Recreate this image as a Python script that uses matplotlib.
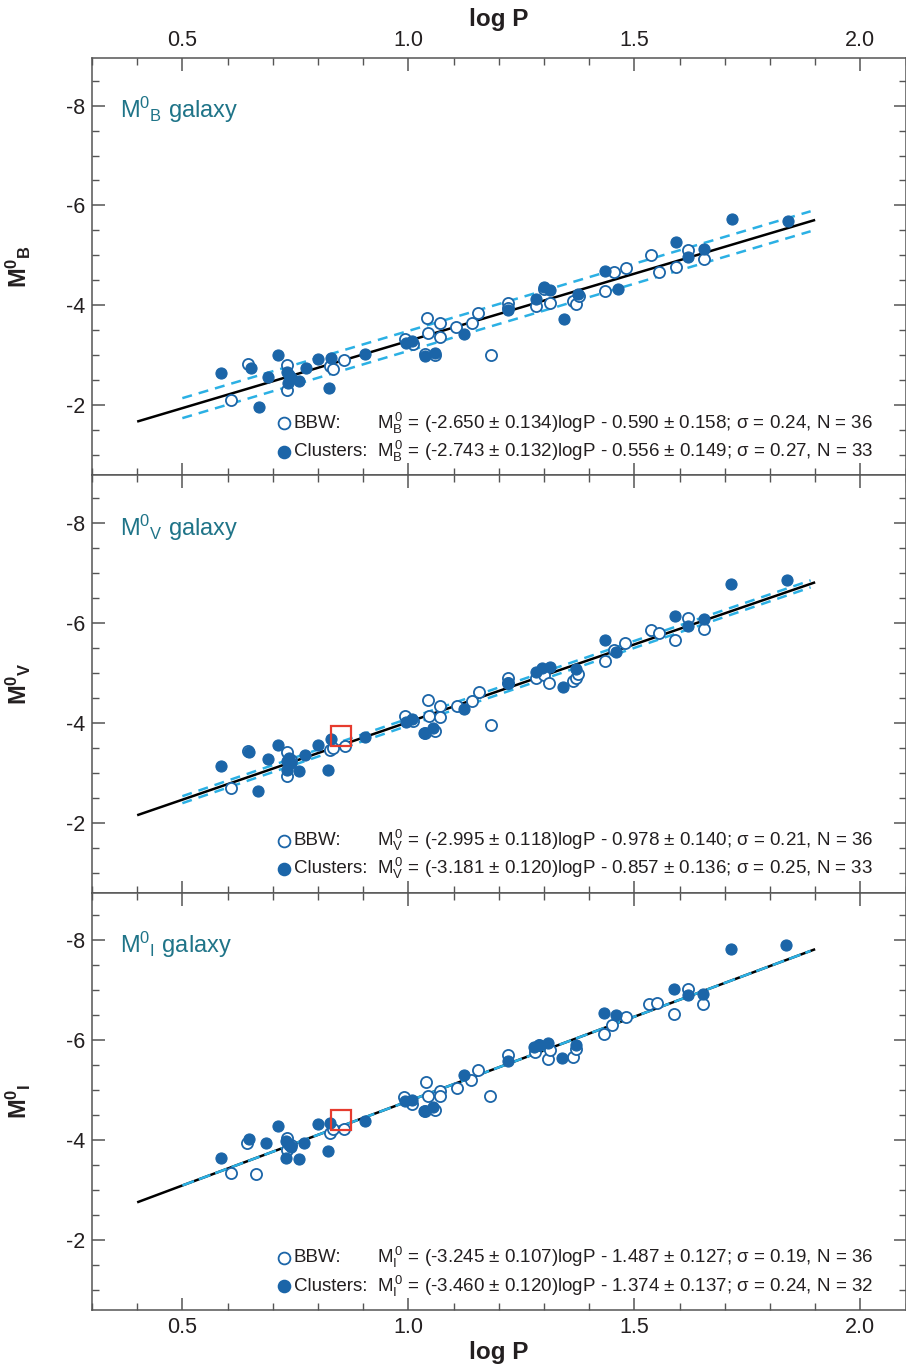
import numpy as np
import matplotlib
matplotlib.use('Agg')
import matplotlib.pyplot as plt
from matplotlib.ticker import MultipleLocator, FormatStrFormatter

# ---- B band ----
bbw_logp_B = [0.608, 0.645, 0.732, 0.732, 0.741, 0.826, 0.833, 0.858, 0.992, 1.010,
              1.036, 1.041, 1.044, 1.058, 1.069, 1.069, 1.106, 1.140, 1.155, 1.183,
              1.220, 1.221, 1.283, 1.300, 1.313, 1.364, 1.371, 1.377, 1.435, 1.454,
              1.482, 1.537, 1.555, 1.592, 1.619, 1.654]
bbw_B = [-2.10, -2.82, -2.80, -2.31, -2.55, -2.78, -2.72, -2.90, -3.33, -3.22,
         -3.02, -3.75, -3.44, -3.00, -3.65, -3.36, -3.57, -3.64, -3.85, -3.01,
         -4.05, -3.95, -3.99, -4.32, -4.05, -4.08, -4.03, -4.18, -4.29, -4.67,
         -4.75, -5.00, -4.67, -4.77, -5.10, -4.93]
cl_logp_B = [0.586, 0.652, 0.670, 0.690, 0.712, 0.731, 0.733, 0.735, 0.741, 0.758,
             0.774, 0.801, 0.825, 0.829, 0.904, 0.994, 1.009, 1.037, 1.059, 1.124,
             1.221, 1.283, 1.299, 1.313, 1.345, 1.375, 1.435, 1.463, 1.592, 1.619,
             1.654, 1.715, 1.840]
cl_B = [-2.64, -2.75, -1.97, -2.57, -3.00, -2.67, -2.45, -2.60, -2.55, -2.49,
        -2.75, -2.92, -2.34, -2.95, -3.03, -3.24, -3.29, -2.99, -3.05, -3.43,
        -3.90, -4.13, -4.37, -4.30, -3.73, -4.22, -4.69, -4.33, -5.27, -4.97,
        -5.13, -5.73, -5.69]

# ---- V band ----
bbw_logp_V = [0.608, 0.646, 0.731, 0.731, 0.741, 0.826, 0.833, 0.860, 0.993, 1.011,
              1.036, 1.043, 1.046, 1.058, 1.070, 1.070, 1.107, 1.140, 1.156, 1.183,
              1.220, 1.221, 1.283, 1.300, 1.312, 1.365, 1.371, 1.376, 1.435, 1.454,
              1.479, 1.536, 1.555, 1.590, 1.619, 1.654]
bbw_V = [-2.70, -3.43, -3.41, -2.94, -3.25, -3.45, -3.50, -3.54, -4.13, -4.03,
         -3.80, -4.46, -4.14, -3.83, -4.34, -4.11, -4.33, -4.43, -4.62, -3.96,
         -4.89, -4.80, -4.89, -4.95, -4.79, -4.84, -4.90, -4.98, -5.24, -5.46,
         -5.59, -5.85, -5.79, -5.65, -6.09, -5.87]
cl_logp_V = [0.586, 0.648, 0.667, 0.689, 0.711, 0.731, 0.731, 0.735, 0.741, 0.758,
             0.772, 0.800, 0.823, 0.829, 0.904, 0.994, 1.009, 1.035, 1.055, 1.124,
             1.221, 1.283, 1.296, 1.313, 1.343, 1.371, 1.435, 1.460, 1.590, 1.619,
             1.654, 1.713, 1.838]
cl_V = [-3.13, -3.41, -2.63, -3.28, -3.56, -3.23, -3.05, -3.30, -3.20, -3.03,
        -3.35, -3.56, -3.06, -3.68, -3.71, -4.01, -4.07, -3.79, -3.90, -4.27,
        -4.80, -5.01, -5.09, -5.11, -4.71, -5.07, -5.65, -5.42, -6.14, -5.93,
        -6.07, -6.78, -6.85]

# ---- I band ----
bbw_logp_I = [0.608, 0.642, 0.663, 0.731, 0.731, 0.741, 0.826, 0.833, 0.858, 0.991,
              1.009, 1.036, 1.039, 1.043, 1.058, 1.070, 1.070, 1.107, 1.139, 1.153,
              1.181, 1.220, 1.281, 1.290, 1.309, 1.313, 1.365, 1.371, 1.432, 1.450,
              1.481, 1.533, 1.551, 1.588, 1.618, 1.652]
bbw_I = [-3.35, -3.95, -3.33, -4.05, -3.80, -3.90, -4.15, -4.22, -4.23, -4.87,
         -4.73, -4.58, -5.17, -4.88, -4.60, -4.98, -4.89, -5.05, -5.20, -5.40,
         -4.89, -5.71, -5.77, -5.90, -5.63, -5.80, -5.67, -5.82, -6.13, -6.31,
         -6.47, -6.72, -6.75, -6.53, -7.02, -6.73]
cl_logp_I = [0.585, 0.648, 0.685, 0.711, 0.729, 0.730, 0.735, 0.741, 0.758, 0.769,
             0.800, 0.823, 0.827, 0.903, 0.993, 1.009, 1.035, 1.055, 1.124, 1.220,
             1.277, 1.290, 1.308, 1.341, 1.371, 1.432, 1.459, 1.588, 1.618, 1.652,
             1.713, 1.836]
cl_I = [-3.65, -4.03, -3.95, -4.28, -3.98, -3.65, -3.90, -3.87, -3.62, -3.95,
        -4.33, -3.79, -4.35, -4.38, -4.78, -4.81, -4.58, -4.67, -5.31, -5.59,
        -5.87, -5.90, -5.95, -5.65, -5.91, -6.55, -6.50, -7.02, -6.91, -6.92,
        -7.83, -7.91]

# mean PL fit (slope, zero point) and half-width of the comparison relation
fit_slope = [-2.69, -3.107, -3.377]
fit_zero = [-0.60, -0.907, -1.403]
band_halfwidth = [0.20, 0.07, 0.0]

# star marked in the V and I panels
marked_logp = 0.85
marked_mag = [None, -3.74, -4.40]

bands = ['B', 'V', 'I']
bbw_eq = [
    '= (-2.650 \u00b1 0.134)logP - 0.590 \u00b1 0.158; \u03c3 = 0.24, N = 36',
    '= (-2.995 \u00b1 0.118)logP - 0.978 \u00b1 0.140; \u03c3 = 0.21, N = 36',
    '= (-3.245 \u00b1 0.107)logP - 1.487 \u00b1 0.127; \u03c3 = 0.19, N = 36',
]
cl_eq = [
    '= (-2.743 \u00b1 0.132)logP - 0.556 \u00b1 0.149; \u03c3 = 0.27, N = 33',
    '= (-3.181 \u00b1 0.120)logP - 0.857 \u00b1 0.136; \u03c3 = 0.25, N = 33',
    '= (-3.460 \u00b1 0.120)logP - 1.374 \u00b1 0.137; \u03c3 = 0.24, N = 32',
]

plt.rcParams['font.family'] = ['Liberation Sans', 'DejaVu Sans']
plt.rcParams['mathtext.fontset'] = 'custom'
plt.rcParams['mathtext.rm'] = 'Liberation Sans'
plt.rcParams['mathtext.bf'] = 'Liberation Sans:bold'
plt.rcParams['axes.unicode_minus'] = False

BLUE = '#1b65a8'
CYAN = '#2bb0e4'
TEAL = '#1f7488'
TXT = '#231f20'
SPINE = '#555555'

fig = plt.figure(figsize=(9.06, 13.69), dpi=100)
axes = fig.subplots(3, 1, sharex=True, gridspec_kw=dict(hspace=0))
fig.subplots_adjust(left=0.1015, right=0.9995, top=0.9576, bottom=0.0431)

data = [(bbw_logp_B, bbw_B, cl_logp_B, cl_B),
        (bbw_logp_V, bbw_V, cl_logp_V, cl_V),
        (bbw_logp_I, bbw_I, cl_logp_I, cl_I)]

for k, ax in enumerate(axes):
    bx, by, cx, cy = data[k]
    b = bands[k]

    ax.set_xlim(0.3, 2.1)
    ax.set_ylim(-0.6, -8.95)

    # fit line and comparison relation
    xl = np.array([0.4, 1.9])
    ax.plot(xl, fit_slope[k] * xl + fit_zero[k], color='black', lw=1.8,
            solid_capstyle='butt', zorder=2)
    xd = np.array([0.5, 1.89])
    if band_halfwidth[k] > 0:
        for off in (-band_halfwidth[k], band_halfwidth[k]):
            ax.plot(xd, fit_slope[k] * xd + fit_zero[k] + off, color=CYAN,
                    lw=1.8, dashes=(4, 2.8), zorder=2.5)
    else:
        ax.plot(xd, fit_slope[k] * xd + fit_zero[k], color=CYAN,
                lw=1.8, dashes=(5, 2), zorder=2.5)

    ax.plot(bx, by, 'o', ls='none', ms=8, mfc='white', mec=BLUE, mew=1.3,
            zorder=3)
    ax.plot(cx, cy, 'o', ls='none', ms=8, mfc=BLUE, mec=BLUE, mew=0.8,
            zorder=4)

    if marked_mag[k] is not None:
        ax.plot([marked_logp], [marked_mag[k]], 's', ms=14.5, mfc='none',
                mec='#e63b2e', mew=1.6, zorder=5)

    # panel label
    ax.text(0.034, 0.875, r'$\mathrm{M^{0}{}_{%s}}$ galaxy' % b,
            transform=ax.transAxes, color=TEAL, fontsize=17, va='center')

    # fit summaries
    for row, (lab, eq, filled) in enumerate([('BBW:', bbw_eq[k], False),
                                             ('Clusters:', cl_eq[k], True)]):
        yy = 0.125 - row * 0.068
        ax.plot([0.236], [yy], 'o', transform=ax.transAxes, ms=8.5,
                mfc=BLUE if filled else 'white', mec=BLUE, mew=1.3,
                clip_on=False, zorder=5)
        ax.text(0.248, yy, lab, transform=ax.transAxes, fontsize=13.5,
                color=TXT, va='center')
        ax.text(0.350, yy, r'$\mathrm{M_{%s}^{\,0}}$ ' % b + eq,
                transform=ax.transAxes, fontsize=13.5, color=TXT, va='center')

    ax.set_ylabel(r'$\mathbf{M^{0}{}_{%s}}$' % b, fontsize=17, color=TXT)
    ax.yaxis.set_label_coords(-0.072, 0.5)

    ax.xaxis.set_major_locator(MultipleLocator(0.5))
    ax.xaxis.set_minor_locator(MultipleLocator(0.1))
    ax.xaxis.set_major_formatter(FormatStrFormatter('%.1f'))
    ax.yaxis.set_major_locator(MultipleLocator(2))
    ax.yaxis.set_minor_locator(MultipleLocator(0.5))
    ax.yaxis.set_major_formatter(FormatStrFormatter('%d'))
    ax.tick_params(which='both', direction='in', top=True, right=True,
                   color=SPINE, labelsize=15.5, labelcolor=TXT)
    ax.tick_params(which='major', length=9, width=1.1, pad=5)
    ax.tick_params(which='minor', length=5, width=1.0)
    ax.tick_params(axis='x', labelbottom=(k == 2), labeltop=(k == 0))
    for s in ax.spines.values():
        s.set_color(SPINE)
        s.set_linewidth(1.1)

axes[0].set_xlabel('log P', fontsize=17.5, fontweight='bold', color=TXT, labelpad=3)
axes[0].xaxis.set_label_position('top')
axes[2].set_xlabel('log P', fontsize=17.5, fontweight='bold', color=TXT, labelpad=2)
fig.savefig('out.png', dpi=100)
